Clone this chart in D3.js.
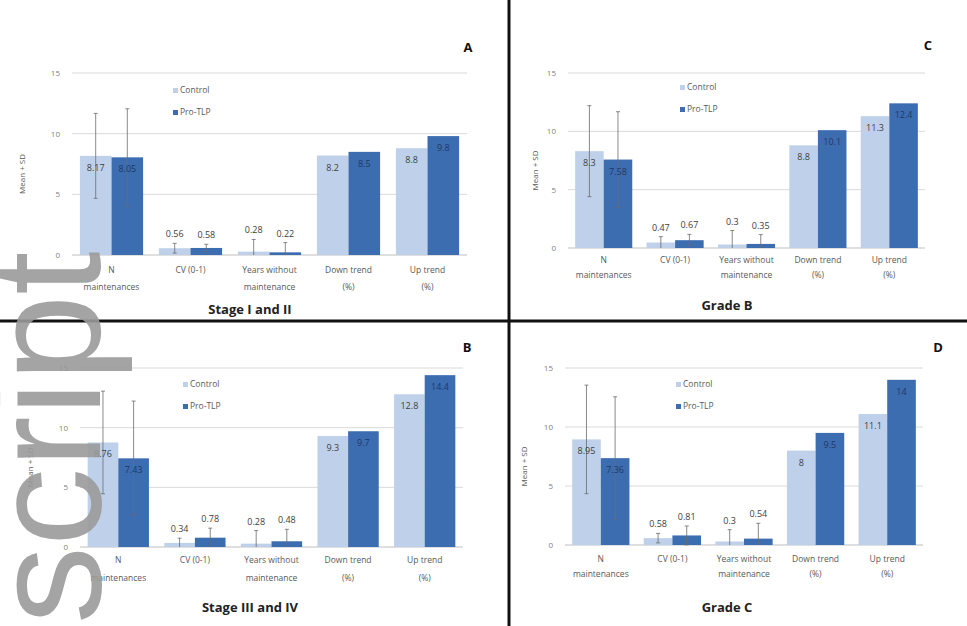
<!DOCTYPE html>
<html lang="en">
<head>
<meta charset="utf-8">
<title>Control vs Pro-TLP</title>
<script src="https://d3js.org/d3.v7.min.js"></script>
<style>
  body { margin: 0; background: #fff; }
  text { font-family: "Open Sans", "Liberation Sans", sans-serif; }
</style>
</head>
<body>
<svg width="967" height="626"></svg>
<script>

// data
var categories = [["N", "maintenances"], ["CV (0-1)"], ["Years without", "maintenance"], ["Down trend", "(%)"], ["Up trend", "(%)"]];
var seriesNames = ["Control", "Pro-TLP"];
var yTicks = [0, 5, 10, 15];

var controlA = [8.17, 0.56, 0.28, 8.2, 8.8],
    proA     = [8.05, 0.58, 0.22, 8.5, 9.8],
    controlSdA = [3.5, 0.4, 1.0, null, null],
    proSdA     = [4.0, 0.3, 0.8, null, null];

var controlB = [8.76, 0.34, 0.28, 9.3, 12.8],
    proB     = [7.43, 0.78, 0.48, 9.7, 14.4],
    controlSdB = [4.3, 0.4, 1.1, null, null],
    proSdB     = [4.8, 0.8, 1.0, null, null];

var controlC = [8.3, 0.47, 0.3, 8.8, 11.3],
    proC     = [7.58, 0.67, 0.35, 10.1, 12.4],
    controlSdC = [3.9, 0.5, 1.2, null, null],
    proSdC     = [4.1, 0.5, 0.8, null, null];

var controlD = [8.95, 0.58, 0.3, 8, 11.1],
    proD     = [7.36, 0.81, 0.54, 9.5, 14],
    controlSdD = [4.6, 0.4, 1.0, null, null],
    proSdD     = [5.2, 0.8, 1.3, null, null];

var colors = ["#bfd1ea", "#3d6db1"];

var svg = d3.select("svg");

var panels = [
  {letter: "A", title: "Stage I and II", c: controlA, p: proA, cs: controlSdA, ps: proSdA,
   left: 72, right: 467, y0: 255, y15: 73, lx: 468, ly: 52, yt: 25, tx: 250, ty: 314, legX: 180, legY: 93, catY: [18, 35]},
  {letter: "C", title: "Grade B", c: controlC, p: proC, cs: controlSdC, ps: proSdC,
   left: 568, right: 925, y0: 248, y15: 73, lx: 928, ly: 50, yt: 538, tx: 727, ty: 310, legX: 687, legY: 90, catY: [15, 30]},
  {letter: "B", title: "Stage III and IV", c: controlB, p: proB, cs: controlSdB, ps: proSdB,
   left: 80, right: 463, y0: 547, y15: 368, lx: 467, ly: 352, yt: 33, tx: 250, ty: 612, legX: 190, legY: 387, catY: [16, 34]},
  {letter: "D", title: "Grade C", c: controlD, p: proD, cs: controlSdD, ps: proSdD,
   left: 565, right: 923, y0: 545, y15: 368, lx: 938, ly: 352, yt: 527, tx: 727, ty: 612, legX: 683, legY: 387, catY: [17, 32]}
];

panels.forEach(function(P) {
  var g = svg.append("g");

  var x = d3.scaleBand().domain(d3.range(categories.length))
      .range([P.left, P.right]).paddingInner(0.2).paddingOuter(0.1);
  var xs = d3.scaleBand().domain([0, 1]).range([0, x.bandwidth()]);
  var y = d3.scaleLinear().domain([0, 15]).range([P.y0, P.y15]);

  // gridlines
  g.selectAll(".grid").data(yTicks).enter().append("line")
      .attr("x1", P.left).attr("x2", P.right)
      .attr("y1", function(d) { return y(d); }).attr("y2", function(d) { return y(d); })
      .attr("stroke", function(d) { return d === 0 ? "#bfbfbf" : "#d9d9d9"; })
      .attr("stroke-width", 1);

  // y axis labels
  var ax = g.append("g")
      .attr("transform", "translate(" + P.left + ",0)")
      .call(d3.axisLeft(y).tickValues(yTicks).tickSize(0).tickPadding(12));
  ax.select(".domain").remove();
  ax.selectAll("text").attr("fill", "#7f7f7f").style("font-size", "8px");

  g.append("text")
      .attr("transform", "translate(" + P.yt + "," + ((P.y0 + P.y15) / 2 + 10) + ") rotate(-90)")
      .attr("text-anchor", "middle").attr("fill", "#595959").style("font-size", "8px")
      .text("Mean + SD");

  var rows = [];
  categories.forEach(function(cat, i) {
    rows.push({i: i, s: 0, v: P.c[i], sd: P.cs[i]});
    rows.push({i: i, s: 1, v: P.p[i], sd: P.ps[i]});
  });

  // bars
  g.selectAll(".bar").data(rows).enter().append("rect")
      .attr("x", function(d) { return x(d.i) + xs(d.s); })
      .attr("y", function(d) { return y(d.v); })
      .attr("width", xs.bandwidth())
      .attr("height", function(d) { return P.y0 - y(d.v); })
      .attr("fill", function(d) { return colors[d.s]; });

  // error bars
  var eb = rows.filter(function(d) { return d.sd != null; });
  g.selectAll(".err").data(eb).enter().append("line")
      .attr("x1", function(d) { return x(d.i) + xs(d.s) + xs.bandwidth() / 2; })
      .attr("x2", function(d) { return x(d.i) + xs(d.s) + xs.bandwidth() / 2; })
      .attr("y1", function(d) { return y(Math.max(0, d.v - d.sd)); })
      .attr("y2", function(d) { return y(d.v + d.sd); })
      .attr("stroke", "#6b6b6b").attr("stroke-width", 0.8);
  g.selectAll(".cap").data(eb.concat(eb.filter(function(d) { return d.v - d.sd > 0; }).map(function(d) { return {i: d.i, s: d.s, v: d.v, sd: d.sd, low: true}; })))
    .enter().append("line")
      .attr("x1", function(d) { return x(d.i) + xs(d.s) + xs.bandwidth() / 2 - 2; })
      .attr("x2", function(d) { return x(d.i) + xs(d.s) + xs.bandwidth() / 2 + 2; })
      .attr("y1", function(d) { return y(d.low ? d.v - d.sd : d.v + d.sd); })
      .attr("y2", function(d) { return y(d.low ? d.v - d.sd : d.v + d.sd); })
      .attr("stroke", "#6b6b6b").attr("stroke-width", 0.8);

  // value labels
  g.selectAll(".val").data(rows).enter().append("text")
      .attr("x", function(d) { return x(d.i) + xs(d.s) + xs.bandwidth() / 2; })
      .attr("y", function(d) {
        if (d.v > 3) return y(d.v) + 15;
        return y(d.v + (d.sd || 0)) - 6;
      })
      .attr("text-anchor", "middle")
      .attr("fill", function(d) { return d.v > 3 && d.s === 1 ? "#1f3864" : "#404040"; })
      .style("font-size", "9px")
      .text(function(d) { return String(d.v); });

  // category labels
  categories.forEach(function(cat, i) {
    cat.forEach(function(line, k) {
      g.append("text")
          .attr("x", x(i) + x.bandwidth() / 2)
          .attr("y", P.y0 + P.catY[k])
          .attr("text-anchor", "middle").attr("fill", "#595959")
          .style("font-size", "8.5px")
          .text(line);
    });
  });

  // legend
  seriesNames.forEach(function(name, k) {
    g.append("rect")
        .attr("x", P.legX - 7).attr("y", P.legY + k * 22 - 5)
        .attr("width", 5).attr("height", 5).attr("fill", colors[k]);
    g.append("text")
        .attr("x", P.legX).attr("y", P.legY + k * 22)
        .attr("fill", "#595959").style("font-size", "8.5px")
        .text(name);
  });

  // panel letter and title
  g.append("text").attr("x", P.lx).attr("y", P.ly)
      .attr("text-anchor", "middle").attr("font-weight", "bold")
      .style("font-size", "13px").attr("fill", "#111").text(P.letter);
  g.append("text").attr("x", P.tx).attr("y", P.ty)
      .attr("text-anchor", "middle").attr("font-weight", "bold")
      .style("font-size", "13px").attr("fill", "#222").text(P.title);
});

// dividers
svg.append("line").attr("x1", 509).attr("x2", 509).attr("y1", 0).attr("y2", 626)
    .attr("stroke", "#111").attr("stroke-width", 3);
svg.append("line").attr("x1", 0).attr("x2", 967).attr("y1", 321).attr("y2", 321)
    .attr("stroke", "#111").attr("stroke-width", 3);

// watermark on the left edge
svg.append("text")
    .attr("transform", "translate(100,624) rotate(-90)")
    .attr("text-anchor", "start")
    .attr("fill", "#9a9a9a").attr("fill-opacity", 0.9)
    .style("font-family", "'Liberation Sans', Arial, sans-serif")
    .style("font-size", "156px")
    .text("script");

</script>
</body>
</html>
